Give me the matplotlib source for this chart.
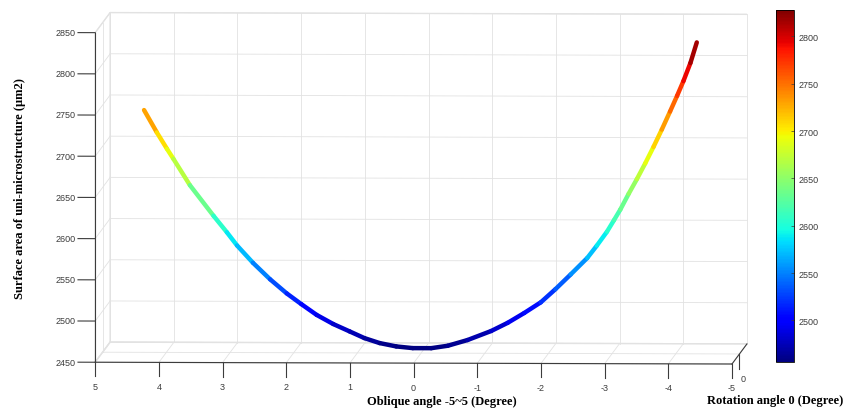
import numpy as np
import matplotlib
matplotlib.use('Agg')
import matplotlib.pyplot as plt
from mpl_toolkits.mplot3d import proj3d
from mpl_toolkits.mplot3d.art3d import Line3DCollection

# oblique angle (degree) vs surface area of one micro-structure (um^2), rotation angle fixed at 0
oblique = [4.35, 4.15, 3.99, 3.89, 3.63, 3.26, 3.05, 2.89, 2.64, 2.37,
           2.11, 1.88, 1.64, 1.38, 1.12, 0.89, 0.65, 0.39, 0.13,
           -0.16, -0.42, -0.73, -1.10, -1.36, -1.62, -1.88, -2.11, -2.35,
           -2.61, -2.76, -2.92, -3.03, -3.13, -3.26, -3.39, -3.52, -3.65,
           -3.78, -3.91, -4.02, -4.12, -4.23, -4.33]
area = [2744, 2717, 2697, 2685, 2653, 2616, 2596, 2580, 2559, 2539,
        2522, 2509, 2496, 2485, 2476, 2468, 2462, 2458, 2456,
        2456, 2459, 2466, 2477, 2487, 2499, 2512, 2528, 2546,
        2566, 2581, 2598, 2612, 2625, 2644, 2662, 2681, 2701,
        2722, 2744, 2763, 2781, 2803, 2828]
rotation = 0

x_ticks = list(range(-5, 6))
z_ticks = list(range(2450, 2851, 50))
cb_ticks = list(range(2500, 2801, 50))
x_lim = (-5, 5)
y_lim = (-1, 1)
z_lim = (2450, 2850)

plt.rcParams['axes.unicode_minus'] = False
plt.rcParams['font.family'] = 'Liberation Sans'

fig = plt.figure(figsize=(8.61, 4.10), dpi=100)
ax = fig.add_axes([0.0326, 0.0248, 0.9, 1.0], projection='3d')
ax.set_proj_type('ortho')
ax.view_init(elev=3.5, azim=92.6)
ax.set_box_aspect((639, 330, 331), zoom=1.87)
ax.computed_zorder = False

ax.set_xlim(*x_lim)
ax.set_ylim(*y_lim)
ax.set_zlim(*z_lim)
ax.set_xticks([])
ax.set_yticks([])
ax.set_zticks([])
for axis in (ax.xaxis, ax.yaxis, ax.zaxis):
    axis.set_pane_color((1, 1, 1, 1))
    axis.pane.set_edgecolor('#e2e2e2')
    axis.line.set_color('none')

# grid on the back wall, the left wall and the floor
gkw = dict(color='#e2e2e2', lw=0.6, clip_on=False, zorder=1)
for xt in x_ticks:
    ax.plot([xt, xt], [-1, -1], z_lim, **gkw)
    ax.plot([xt, xt], y_lim, [2450, 2450], **gkw)
for zt in z_ticks:
    ax.plot(x_lim, [-1, -1], [zt, zt], **gkw)
    ax.plot([5, 5], y_lim, [zt, zt], **gkw)
ax.plot(x_lim, [0, 0], [2450, 2450], **gkw)
ax.plot([5, 5], [0, 0], z_lim, **gkw)

x = np.array(oblique)
z = np.array(area)
y = np.full(len(x), rotation)
pts = np.column_stack([x, y, z])
segs = np.stack([pts[:-1], pts[1:]], axis=1)
norm = plt.Normalize(z.min(), z.max())
cmap = plt.get_cmap('jet')
lc = Line3DCollection(segs, colors=cmap(norm((z[:-1] + z[1:]) / 2)),
                      linewidths=3.2, capstyle='round', zorder=3)
lc.set_clip_on(False)
ax.add_collection3d(lc)

# MATLAB-style axes: front x axis, left z axis, short depth axis on the right
ink = '#3c3c3c'
kw = dict(color=ink, lw=0.8, clip_on=False, zorder=2)
ax.plot(x_lim, [1, 1], [2450, 2450], **kw)
ax.plot([5, 5], [1, 1], z_lim, **kw)
ax.plot([-5, -5], [1, -1], [2450, 2450], **kw)
for xt in x_ticks:
    ax.plot([xt, xt], [1, 1], [2450, 2433], **kw)
for zt in z_ticks:
    ax.plot([5, 5.27], [1, 1], [zt, zt], **kw)
ax.plot([-5, -5], [0, 0], [2450, 2432], **kw)

# tick labels as flat text, placed through the axes' own projection
fig.canvas.draw()
M = ax.get_proj()


def label_at(px, py, pz, s, ha='center'):
    u, v, _ = proj3d.proj_transform(px, py, pz, M)
    ax.text2D(u, v, s, transform=ax.transData, ha=ha, va='center',
              fontsize=6.5, color=ink)


for xt in x_ticks:
    label_at(xt, 1, 2421, str(xt))
for zt in z_ticks:
    label_at(5.31, 1, zt, str(zt), ha='right')
label_at(-5.05, 0, 2420, str(rotation))

cax = fig.add_axes([776 / 861, 47 / 410, 18 / 861, 352 / 410])
sm = plt.cm.ScalarMappable(norm=norm, cmap=cmap)
cb = fig.colorbar(sm, cax=cax)
cb.set_ticks(cb_ticks)
cb.outline.set_linewidth(0.6)
cax.tick_params(direction='in', length=2.5, width=0.5, labelsize=6.5, colors=ink)

fig.text(0.023, 0.54, 'Surface area of uni-microstructure (\u03bcm2)', rotation=90,
         ha='center', va='center', family='Liberation Serif', weight='bold', fontsize=9)
fig.text(442 / 861, 1 - 402 / 410, 'Oblique angle -5~5 (Degree)',
         ha='center', va='center', family='Liberation Serif', weight='bold', fontsize=9)
fig.text(775 / 861, 1 - 401.5 / 410, 'Rotation angle 0 (Degree)',
         ha='center', va='center', family='Liberation Serif', weight='bold', fontsize=9)

fig.savefig('out.png', dpi=100)
